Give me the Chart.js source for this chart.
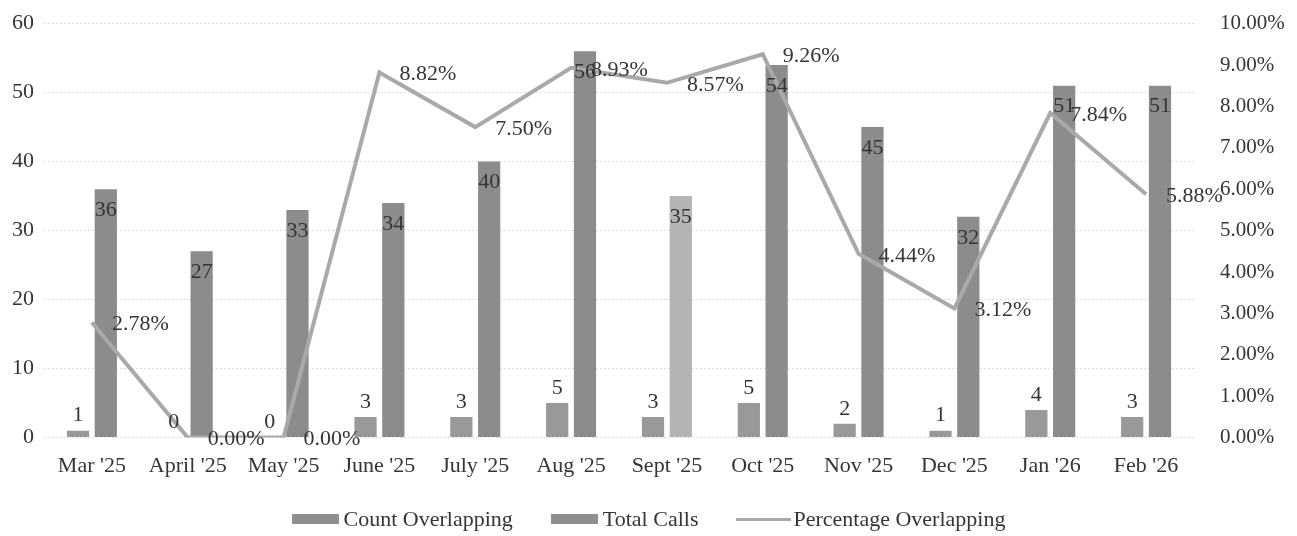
<!DOCTYPE html>
<html>
<head>
<meta charset="utf-8">
<script src="https://cdn.jsdelivr.net/npm/chart.js@4.4.1/dist/chart.umd.min.js"></script>
<style>
  html, body { margin: 0; padding: 0; background: #ffffff; overflow: hidden; }
  #wrap { width: 1297px; height: 536px; position: relative; overflow: hidden; }
  #chartBox { position: absolute; left: 0; top: -15px; width: 1297px; height: 551px; }
  #legend {
    position: absolute; left: 0; right: 0; top: 505px; height: 28px;
    display: flex; justify-content: center; align-items: center;
    font-family: 'Liberation Serif', 'Times New Roman', serif; font-size: 22px; color: #353535;
  }
  #legend .item { display: flex; align-items: center; margin: 0 19px; }
  #legend .box { width: 47px; height: 10px; background: #8f8f8f; margin-right: 5px; }
  #legend .line { width: 55px; height: 3px; background: #a9a9a9; margin-right: 2px; }
</style>
</head>
<body>
<div id="wrap">
  <div id="chartBox"><canvas id="chart"></canvas></div>
  <div id="legend">
    <div class="item"><span class="box"></span>Count Overlapping</div>
    <div class="item"><span class="box"></span>Total Calls</div>
    <div class="item"><span class="line"></span>Percentage Overlapping</div>
  </div>
</div>
<script>
// --- data ---
const months = ["Mar '25", "April '25", "May '25", "June '25", "July '25", "Aug '25",
                "Sept '25", "Oct '25", "Nov '25", "Dec '25", "Jan '26", "Feb '26"];
const countOverlapping = [1, 0, 0, 3, 3, 5, 3, 5, 2, 1, 4, 3];
const totalCalls = [36, 27, 33, 34, 40, 56, 35, 54, 45, 32, 51, 51];
const pctOverlapping = [2.78, 0.00, 0.00, 8.82, 7.50, 8.93, 8.57, 9.26, 4.44, 3.12, 7.84, 5.88];
const countAxisTicks = [0, 10, 20, 30, 40, 50, 60];
const pctAxisTicks = [0, 1, 2, 3, 4, 5, 6, 7, 8, 9, 10];

const FONT = "'Liberation Serif', 'Times New Roman', serif";
const TEXT = '#353535';

// labels drawn next to the marks (no datalabels plugin available)
const valueLabels = {
    id: 'valueLabels',
    afterDatasetsDraw(chart) {
        const ctx = chart.ctx;
        ctx.save();
        ctx.font = '22px ' + FONT;
        ctx.fillStyle = TEXT;
        chart.data.datasets.forEach((ds, i) => {
            const meta = chart.getDatasetMeta(i);
            meta.data.forEach((el, j) => {
                const v = ds.data[j];
                if (ds.type === 'line') {
                    ctx.textAlign = 'left';
                    ctx.textBaseline = 'middle';
                    ctx.fillText(v.toFixed(2) + '%', el.x + 20, el.y + 2);
                } else if (ds.label === 'Total Calls') {
                    ctx.textAlign = 'center';
                    ctx.textBaseline = 'top';
                    ctx.fillText(v, el.x, el.y + 10);
                } else {
                    ctx.textAlign = 'center';
                    ctx.textBaseline = 'bottom';
                    ctx.fillText(v, el.x, el.y - 4);
                }
            });
        });
        ctx.restore();
    }
};

const ctx = document.getElementById('chart').getContext('2d');
new Chart(ctx, {
    data: {
        labels: months,
        datasets: [
            {
                type: 'bar',
                label: 'Count Overlapping',
                data: countOverlapping,
                backgroundColor: '#999999',
                yAxisID: 'y',
                order: 1,
                categoryPercentage: 0.58,
                barPercentage: 0.8
            },
            {
                type: 'bar',
                label: 'Total Calls',
                data: totalCalls,
                // the Sept bar is printed lighter in the picture
                backgroundColor: months.map((m, i) => i === 6 ? '#b4b4b4' : '#8c8c8c'),
                yAxisID: 'y',
                order: 2,
                categoryPercentage: 0.58,
                barPercentage: 0.8
            },
            {
                type: 'line',
                label: 'Percentage Overlapping',
                data: pctOverlapping,
                borderColor: '#a9a9a9',
                backgroundColor: '#a9a9a9',
                borderWidth: 4,
                pointRadius: 0,
                tension: 0,
                yAxisID: 'y1',
                order: 0
            }
        ]
    },
    options: {
        responsive: true,
        maintainAspectRatio: false,
        animation: false,
        layout: { padding: { top: 0, left: 0, right: 0, bottom: 42 } },
        plugins: {
            legend: { display: false }, // legend is built in HTML below the chart
            tooltip: { enabled: false }
        },
        scales: {
            x: {
                grid: { display: false, drawTicks: false },
                border: { display: false },
                ticks: {
                    color: TEXT,
                    font: { family: FONT, size: 22 },
                    padding: 15,
                    maxRotation: 0
                }
            },
            y: {
                position: 'left',
                min: countAxisTicks[0],
                max: countAxisTicks[countAxisTicks.length - 1],
                afterBuildTicks: axis => { axis.ticks = countAxisTicks.map(v => ({ value: v })); },
                afterFit: axis => { axis.width = 44; },
                grid: { color: '#dddddd', drawTicks: false },
                border: { display: false, dash: [2, 2] },
                ticks: {
                    color: TEXT,
                    font: { family: FONT, size: 22 },
                    padding: 10
                }
            },
            y1: {
                position: 'right',
                min: pctAxisTicks[0],
                max: pctAxisTicks[pctAxisTicks.length - 1],
                afterBuildTicks: axis => { axis.ticks = pctAxisTicks.map(v => ({ value: v })); },
                afterFit: axis => { axis.width = 103; },
                grid: { display: false, drawTicks: false },
                border: { display: false },
                ticks: {
                    color: TEXT,
                    font: { family: FONT, size: 21 },
                    padding: 26,
                    callback: v => Number(v).toFixed(2) + '%'
                }
            }
        }
    },
    plugins: [valueLabels]
});
</script>
</body>
</html>
